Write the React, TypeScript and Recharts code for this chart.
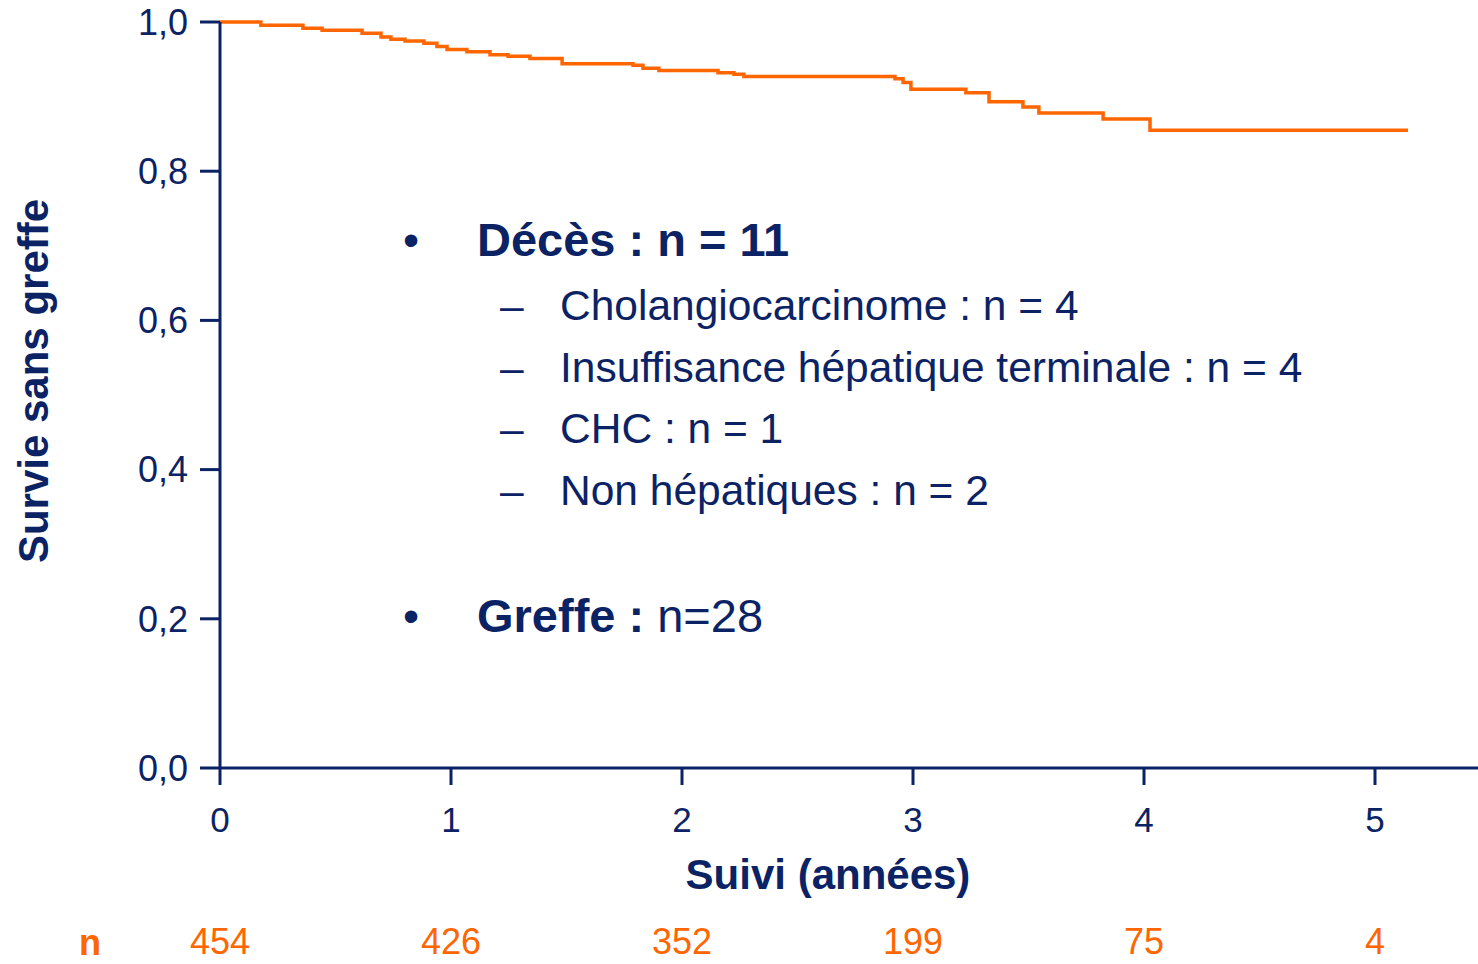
import React from "react";
import { LineChart, Line, XAxis, YAxis, Label } from "recharts";

// Kaplan-Meier survival without transplant
const years = [
  0, 0.177, 0.359, 0.442, 0.615, 0.697, 0.74, 0.801, 0.883, 0.939, 0.983, 1.069,
  1.169, 1.247, 1.342, 1.481, 1.788, 1.831, 1.9, 2.156, 2.225, 2.268, 2.922,
  2.957, 2.991, 3.229, 3.329, 3.476, 3.545, 3.823, 4.026, 5.143,
];
const survival = [
  1.0, 0.9956, 0.9915, 0.9889, 0.9848, 0.98, 0.977, 0.9745, 0.9715, 0.967, 0.963,
  0.96, 0.956, 0.954, 0.951, 0.944, 0.942, 0.938, 0.935, 0.932, 0.93, 0.927,
  0.924, 0.919, 0.91, 0.905, 0.893, 0.886, 0.878, 0.87, 0.855, 0.855,
];
const xTicks = [0, 1, 2, 3, 4, 5];
const yTicks = [0, 0.2, 0.4, 0.6, 0.8, 1.0];
const atRisk = [454, 426, 352, 199, 75, 4];

const deathCauses = [
  "Cholangiocarcinome : n = 4",
  "Insuffisance hépatique terminale : n = 4",
  "CHC : n = 1",
  "Non hépatiques : n = 2",
];

const NAVY = "#0b2364";
const ORANGE = "#ff6600";
const FONT = "'Liberation Sans', Arial, sans-serif";

const data = years.map((t, i) => ({ t, s: survival[i] }));

const W = 1478;
const H = 964;

export default function App() {
  return (
    <div style={{ position: "absolute", left: 0, top: 0, width: W, height: H, fontFamily: FONT }}>
      <LineChart
        width={W}
        height={H}
        data={data}
        margin={{ top: 22, right: 0, left: 0, bottom: 0 }}
      >
        <XAxis
          xAxisId="main"
          dataKey="t"
          type="number"
          domain={[0, (W - 220) / 231]}
          ticks={xTicks}
          allowDataOverflow
          height={148}
          tickSize={17}
          tickMargin={22}
          stroke={NAVY}
          strokeWidth={3}
          tick={{ fill: NAVY, fontSize: 35, fontFamily: FONT }}
        >
          <Label
            content={({ viewBox }: any) => (
              <text
                x={828}
                y={viewBox.y + 121}
                textAnchor="middle"
                fill={NAVY}
                fontSize={42}
                fontWeight="bold"
                fontFamily={FONT}
              >
                Suivi (années)
              </text>
            )}
          />
        </XAxis>
        <XAxis
          xAxisId="risk"
          dataKey="t"
          type="number"
          domain={[0, (W - 220) / 231]}
          ticks={xTicks}
          allowDataOverflow
          height={48}
          axisLine={false}
          tickLine={false}
          tickSize={0}
          tickMargin={12}
          tickFormatter={(v: number) => String(atRisk[xTicks.indexOf(v)] ?? "")}
          tick={{ fill: ORANGE, fontSize: 36, fontFamily: FONT }}
        >
          <Label
            content={() => (
              <text
                x={90}
                y={955}
                textAnchor="middle"
                fill={ORANGE}
                fontSize={36}
                fontWeight="bold"
                fontFamily={FONT}
              >
                n
              </text>
            )}
          />
        </XAxis>
        <YAxis
          domain={[0, 1]}
          ticks={yTicks}
          width={220}
          tickSize={20}
          tickMargin={12}
          stroke={NAVY}
          strokeWidth={3}
          tickFormatter={(v: number) => v.toFixed(1).replace(".", ",")}
          tick={{ fill: NAVY, fontSize: 36, fontFamily: FONT }}
        >
          <Label
            content={() => (
              <text
                x={0}
                y={0}
                transform="translate(48, 381) rotate(-90)"
                textAnchor="middle"
                fill={NAVY}
                fontSize={42}
                fontWeight="bold"
                fontFamily={FONT}
              >
                Survie sans greffe
              </text>
            )}
          />
        </YAxis>
        <Line
          xAxisId="main"
          type="stepAfter"
          dataKey="s"
          stroke={ORANGE}
          strokeWidth={3.5}
          dot={false}
          activeDot={false}
          isAnimationActive={false}
        />
      </LineChart>

      <svg
        width={W}
        height={H}
        style={{ position: "absolute", left: 0, top: 0, pointerEvents: "none" }}
      >
        <g fill={NAVY} fontFamily={FONT}>
          <text x={403} y={256} fontSize={46}>•</text>
          <text x={477} y={256} fontSize={47} fontWeight="bold">Décès : n = 11</text>
          {deathCauses.map((c, i) => (
            <g key={c}>
              <text x={500} y={320 + i * 61.5} fontSize={42.5}>–</text>
              <text x={560} y={320 + i * 61.5} fontSize={42.5}>{c}</text>
            </g>
          ))}
          <text x={403} y={632} fontSize={46}>•</text>
          <text x={477} y={632} fontSize={47}>
            <tspan fontWeight="bold">Greffe : </tspan>n=28
          </text>
        </g>
      </svg>
    </div>
  );
}
